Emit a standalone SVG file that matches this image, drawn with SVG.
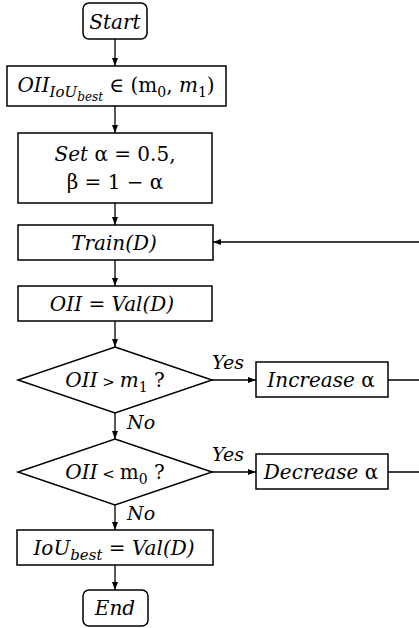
<svg xmlns="http://www.w3.org/2000/svg" width="419" height="628" viewBox="0 0 419 628">
<style>
.box{fill:#fff;stroke:#000;stroke-width:1.5}
.ln{fill:none;stroke:#000;stroke-width:1.3}
.t{font-family:"DejaVu Serif","Liberation Serif",serif;font-style:italic;font-size:20px;fill:#000;text-anchor:middle}
.r{font-style:normal}
.lab{font-family:"DejaVu Serif","Liberation Serif",serif;font-style:italic;font-size:19px;fill:#000}
</style>
<defs>
<marker id="ah" markerUnits="userSpaceOnUse" markerWidth="8" markerHeight="8" viewBox="0 0 8 8" refX="8" refY="4" orient="auto">
<path d="M0,1 L8,4 L0,7 Z" fill="#000"/>
</marker>
</defs>
<g id="connectors">
<line class="ln" x1="115" y1="39" x2="115" y2="66" marker-end="url(#ah)"/>
<line class="ln" x1="115" y1="106" x2="115" y2="133" marker-end="url(#ah)"/>
<line class="ln" x1="115" y1="203" x2="115" y2="225" marker-end="url(#ah)"/>
<line class="ln" x1="115" y1="260" x2="115" y2="286" marker-end="url(#ah)"/>
<line class="ln" x1="115" y1="321" x2="115" y2="347" marker-end="url(#ah)"/>
<line class="ln" x1="115" y1="413" x2="115" y2="439" marker-end="url(#ah)"/>
<line class="ln" x1="115" y1="505" x2="115" y2="530" marker-end="url(#ah)"/>
<line class="ln" x1="115" y1="565" x2="115" y2="590" marker-end="url(#ah)"/>
<line class="ln" x1="212" y1="380" x2="256" y2="380" marker-end="url(#ah)"/>
<line class="ln" x1="212" y1="472" x2="256" y2="472" marker-end="url(#ah)"/>
<path class="ln" d="M388,380 H421 V242 H213" marker-end="url(#ah)"/>
<path class="ln" d="M388,472 H421 V380"/>
<text class="lab" x="212" y="369">Yes</text>
<text class="lab" x="127" y="429">No</text>
<text class="lab" x="212" y="461">Yes</text>
<text class="lab" x="127" y="520">No</text>
</g>
<g id="start">
<rect class="box" x="83" y="3" width="64" height="36" rx="6"/>
<text class="t" x="115" y="29">Start</text>
</g>
<g id="range">
<rect class="box" x="7" y="66" width="219" height="40"/>
<text class="t" x="116" y="92">OII<tspan font-size="15" dy="5">IoU</tspan><tspan font-size="12" dy="4">best</tspan><tspan class="r" dy="-9"> ∈ (m</tspan><tspan class="r" font-size="14" dy="5">0</tspan><tspan class="r" dy="-5">, </tspan>m<tspan class="r" font-size="14" dy="5">1</tspan><tspan class="r" dy="-5">)</tspan></text>
</g>
<g id="set">
<rect class="box" x="18" y="133" width="194" height="70"/>
<text class="t" x="115" y="161">Set <tspan class="r">α = 0.5,</tspan></text>
<text class="t r" x="115" y="189">β = 1 − α</text>
</g>
<g id="train">
<rect class="box" x="18" y="225" width="195" height="35"/>
<text class="t" x="114" y="250">Train(D)</text>
</g>
<g id="val">
<rect class="box" x="18" y="286" width="194" height="35"/>
<text class="t" x="112" y="311">OII <tspan class="r">=</tspan> Val(D)</text>
</g>
<g id="check-high">
<polygon class="box" points="115,347 212,380 115,413 18,380"/>
<text class="t" x="115" y="387">OII<tspan class="r" font-size="15"> &gt; </tspan>m<tspan class="r" font-size="14" dy="5">1</tspan><tspan class="r" dy="-5"> ?</tspan></text>
</g>
<g id="increase">
<rect class="box" x="256" y="362" width="132" height="35"/>
<text class="t" x="321" y="387">Increase <tspan class="r">α</tspan></text>
</g>
<g id="check-low">
<polygon class="box" points="115,439 212,472 115,505 18,472"/>
<text class="t" x="115" y="479">OII<tspan class="r" font-size="15"> &lt; </tspan><tspan class="r">m</tspan><tspan class="r" font-size="14" dy="5">0</tspan><tspan class="r" dy="-5"> ?</tspan></text>
</g>
<g id="decrease">
<rect class="box" x="256" y="454" width="132" height="35"/>
<text class="t" x="321" y="479">Decrease <tspan class="r">α</tspan></text>
</g>
<g id="iou">
<rect class="box" x="17" y="530" width="196" height="35"/>
<text class="t" x="114" y="555">IoU<tspan font-size="15" dy="5">best</tspan><tspan class="r" dy="-5"> = </tspan>Val(D)</text>
</g>
<g id="end">
<rect class="box" x="83" y="590" width="65" height="36" rx="6"/>
<text class="t" x="115" y="615">End</text>
</g>
</svg>
